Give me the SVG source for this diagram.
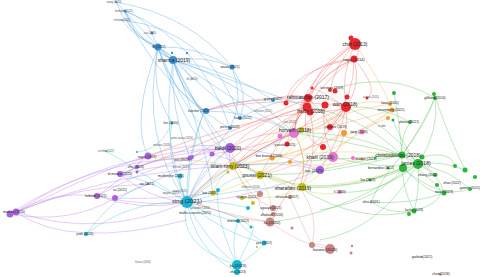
<svg xmlns="http://www.w3.org/2000/svg" width="480" height="277" viewBox="0 0 480 277">
<style>
text{font-family:"Liberation Sans",Arial,sans-serif;fill:#222;text-anchor:middle;dominant-baseline:central}
.t1{font-size:6px}.t2{font-size:5px}.t3{font-size:4px}.t4{font-size:3.3px}.t5{font-size:2.6px;fill:#555}
.b{fill:#3a91d4}.r{fill:#e8262e}.g{fill:#2ab43a}.p{fill:#a862dc}.y{fill:#c4be1a}.c{fill:#1bb4d2}.o{fill:#f49a31}.k{fill:#e279d0}.w{fill:#c98682}
#edges path{fill:none;stroke-width:0.9;stroke-opacity:0.45}
.eb{stroke:#5eaae4}.er{stroke:#f26e6e}.eg{stroke:#62c462}.ep{stroke:#bd86e6}.ey{stroke:#d4cd50}.ec{stroke:#4fc8e0}.eo{stroke:#f6ad62}.ew{stroke:#d9a09c}
</style>
<rect width="480" height="277" fill="#fff"/>
<g id="edges">
<path class="eb" d="M125 11 Q128 35 158 47"/>
<path class="eb" d="M125 11 Q140 45 173 60"/>
<path class="eb" d="M125 11 Q150 70 204 111"/>
<path class="eb" d="M116 2 Q125 30 158 47"/>
<path class="eb" d="M116 2 Q190 15 232 67"/>
<path class="eb" d="M122 20 Q135 38 158 47"/>
<path class="eb" d="M152 33 Q158 52 173 60"/>
<path class="eb" d="M158 47 Q162 56 173 60"/>
<path class="eb" d="M158 47 Q195 45 232 67"/>
<path class="eb" d="M173 60 Q205 55 232 67"/>
<path class="eb" d="M173 60 Q180 90 204 111"/>
<path class="eb" d="M173 60 Q185 105 230 128"/>
<path class="eb" d="M173 60 Q200 85 240 118"/>
<path class="eb" d="M158 47 Q170 90 204 111"/>
<path class="eb" d="M158 47 Q150 90 172 123"/>
<path class="eb" d="M173 60 Q230 70 273 100"/>
<path class="eb" d="M232 67 Q245 100 230 128"/>
<path class="eb" d="M232 67 Q250 95 240 118"/>
<path class="eb" d="M158 47 Q140 140 187 202"/>
<path class="eb" d="M173 60 Q160 140 187 202"/>
<path class="eb" d="M204 111 Q185 160 187 202"/>
<path class="eb" d="M204 111 Q250 110 294 133"/>
<path class="eb" d="M173 60 Q240 80 294 133"/>
<path class="eb" d="M240 118 Q270 100 308 98"/>
<path class="eb" d="M125 11 Q145 18 152 33"/>
<path class="eb" d="M158 47 Q180 60 192 79"/>
<path class="eb" d="M173 60 Q195 110 230 148"/>
<path class="eb" d="M158 47 Q130 120 148 156"/>
<path class="eb" d="M173 60 Q215 140 233 166"/>
<path class="eb" d="M122 20 Q210 30 240 118"/>
<path class="eb" d="M158 47 Q200 150 260 175"/>
<path class="eb" d="M125 11 Q200 40 230 128"/>
<path class="eb" d="M116 2 Q170 60 173 60"/>
<path class="eb" d="M158 47 Q185 130 212 154"/>
<path class="eb" d="M173 60 Q170 110 190 158"/>
<path class="eb" d="M173 60 Q205 140 213 193"/>
<path class="eb" d="M204 111 Q230 100 273 100"/>
<path class="eb" d="M173 60 Q260 90 307 107"/>
<path class="eb" d="M158 47 Q230 100 294 133"/>
<path class="eb" d="M230 128 Q200 170 187 202"/>
<path class="er" d="M355 44 Q362 52 354 59"/>
<path class="er" d="M355 44 Q320 60 308 98"/>
<path class="er" d="M355 44 Q318 70 307 107"/>
<path class="er" d="M355 44 Q340 75 346 107"/>
<path class="er" d="M354 59 Q325 70 308 98"/>
<path class="er" d="M354 59 Q330 75 307 107"/>
<path class="er" d="M354 59 Q362 85 346 107"/>
<path class="er" d="M354 59 Q300 85 294 133"/>
<path class="er" d="M354 59 Q355 95 330 127"/>
<path class="er" d="M354 59 Q290 70 286 103"/>
<path class="er" d="M308 98 Q300 103 307 107"/>
<path class="er" d="M308 98 Q328 95 346 107"/>
<path class="er" d="M307 107 Q328 115 346 107"/>
<path class="er" d="M307 107 Q295 118 294 133"/>
<path class="er" d="M346 107 Q325 130 294 133"/>
<path class="er" d="M346 107 Q345 120 330 127"/>
<path class="er" d="M307 107 Q290 125 287 144"/>
<path class="er" d="M308 98 Q290 92 273 100"/>
<path class="er" d="M294 133 Q260 130 230 148"/>
<path class="er" d="M307 107 Q265 115 230 148"/>
<path class="er" d="M346 107 Q270 95 204 111"/>
<path class="er" d="M308 98 Q255 95 204 111"/>
<path class="er" d="M307 107 Q265 135 233 166"/>
<path class="er" d="M294 133 Q265 145 233 166"/>
<path class="er" d="M346 107 Q350 135 333 157"/>
<path class="er" d="M307 107 Q245 140 187 202"/>
<path class="er" d="M294 133 Q230 160 187 202"/>
<path class="er" d="M355 44 Q335 65 330 90"/>
<path class="er" d="M307 107 Q275 145 260 175"/>
<path class="er" d="M294 133 Q310 160 300 188"/>
<path class="er" d="M346 107 Q340 140 320 170"/>
<path class="er" d="M325 105 Q300 130 287 144"/>
<path class="er" d="M310 112 Q240 120 148 156"/>
<path class="er" d="M346 107 Q320 150 260 175"/>
<path class="er" d="M308 98 Q240 130 120 174"/>
<path class="er" d="M354 59 Q310 60 286 103"/>
<path class="er" d="M355 44 Q300 80 294 133"/>
<path class="er" d="M308 98 Q330 120 330 127"/>
<path class="er" d="M325 105 Q320 130 333 157"/>
<path class="er" d="M346 107 Q320 90 312 88"/>
<path class="er" d="M307 107 Q300 140 323 147"/>
<path class="er" d="M294 133 Q250 150 212 154"/>
<path class="er" d="M346 107 Q290 130 233 166"/>
<path class="er" d="M307 107 Q255 120 190 158"/>
<path class="er" d="M310 112 Q320 160 300 188"/>
<path class="er" d="M346 107 Q300 170 270 222"/>
<path class="er" d="M354 59 Q380 90 367 98"/>
<path class="eo" d="M294 133 Q345 110 390 104"/>
<path class="eo" d="M392 110 Q345 125 294 133"/>
<path class="eo" d="M346 107 Q368 98 390 104"/>
<path class="eo" d="M388 118 Q340 140 272 158"/>
<path class="eo" d="M344 133 Q310 150 272 158"/>
<path class="eo" d="M392 110 Q330 160 260 175"/>
<path class="eo" d="M362 159 Q320 170 290 162"/>
<path class="eo" d="M344 133 Q330 110 307 107"/>
<path class="eo" d="M272 158 Q250 165 233 166"/>
<path class="eo" d="M390 104 Q380 80 355 44"/>
<path class="eg" d="M402 155 Q412 155 418 164"/>
<path class="eg" d="M402 155 Q425 125 435 98"/>
<path class="eg" d="M418 164 Q440 130 435 98"/>
<path class="eg" d="M402 155 Q400 138 410 122"/>
<path class="eg" d="M418 164 Q440 175 444 193"/>
<path class="eg" d="M418 164 Q430 168 435 175"/>
<path class="eg" d="M418 164 Q420 190 414 211"/>
<path class="eg" d="M402 155 Q400 185 414 211"/>
<path class="eg" d="M418 164 Q450 170 470 189"/>
<path class="eg" d="M402 155 Q380 180 371 202"/>
<path class="eg" d="M402 155 Q360 160 320 170"/>
<path class="eg" d="M418 164 Q360 130 294 133"/>
<path class="eg" d="M402 155 Q360 115 307 107"/>
<path class="eg" d="M418 164 Q390 125 346 107"/>
<path class="eg" d="M330 90 Q390 70 435 98"/>
<path class="eg" d="M410 122 Q380 105 346 107"/>
<path class="eg" d="M402 155 Q330 175 260 175"/>
<path class="eg" d="M418 164 Q360 190 300 188"/>
<path class="eg" d="M418 164 Q380 195 340 192"/>
<path class="eg" d="M444 193 Q410 205 371 202"/>
<path class="eg" d="M414 211 Q390 215 371 202"/>
<path class="eg" d="M418 164 Q440 160 465 170"/>
<path class="eg" d="M402 155 Q320 160 233 166"/>
<path class="eg" d="M418 164 Q340 215 270 222"/>
<path class="eg" d="M435 98 Q420 130 402 155"/>
<path class="eg" d="M394 93 Q400 125 402 155"/>
<path class="eg" d="M434 94 Q450 140 465 170"/>
<path class="eg" d="M403 168 Q430 195 444 193"/>
<path class="eg" d="M403 168 Q380 200 320 210"/>
<path class="eg" d="M437 185 Q450 200 414 211"/>
<path class="eg" d="M418 164 Q380 230 320 240"/>
<path class="eg" d="M422 157 Q450 150 455 166"/>
<path class="eg" d="M403 168 Q440 200 470 189"/>
<path class="eg" d="M402 155 Q430 180 437 185"/>
<path class="eg" d="M418 164 Q400 140 393 120"/>
<path class="eg" d="M403 168 Q385 175 370 180"/>
<path class="eg" d="M402 155 Q390 150 375 158"/>
<path class="eg" d="M418 164 Q380 170 333 157"/>
<path class="eg" d="M403 168 Q330 200 260 175"/>
<path class="eg" d="M414 211 Q360 225 300 188"/>
<path class="eg" d="M402 155 Q340 140 294 133"/>
<path class="ep" d="M230 148 Q190 140 148 156"/>
<path class="ep" d="M230 148 Q210 148 190 158"/>
<path class="ep" d="M230 148 Q175 150 120 174"/>
<path class="ep" d="M230 148 Q160 160 97 196"/>
<path class="ep" d="M230 148 Q110 150 16 212"/>
<path class="ep" d="M16 212 Q55 190 97 196"/>
<path class="ep" d="M16 212 Q100 240 187 202"/>
<path class="ep" d="M16 212 Q120 170 233 166"/>
<path class="ep" d="M16 212 Q80 185 148 184"/>
<path class="ep" d="M10 214 Q70 225 115 198"/>
<path class="ep" d="M148 156 Q138 160 137 167"/>
<path class="ep" d="M148 156 Q130 162 120 174"/>
<path class="ep" d="M120 174 Q150 200 187 202"/>
<path class="ep" d="M97 196 Q140 212 187 202"/>
<path class="ep" d="M320 170 Q275 150 230 148"/>
<path class="ep" d="M320 170 Q280 160 233 166"/>
<path class="ep" d="M320 170 Q200 220 97 196"/>
<path class="ep" d="M230 148 Q228 160 233 166"/>
<path class="ep" d="M230 148 Q200 170 187 202"/>
<path class="ep" d="M212 154 Q160 180 115 198"/>
<path class="ep" d="M192 157 Q150 160 137 167"/>
<path class="ep" d="M16 212 Q100 170 148 156"/>
<path class="ep" d="M10 214 Q90 160 190 158"/>
<path class="ep" d="M97 196 Q120 180 148 156"/>
<path class="ep" d="M115 198 Q160 200 213 193"/>
<path class="ep" d="M212 154 Q250 165 260 175"/>
<path class="ep" d="M120 174 Q180 160 233 166"/>
<path class="ep" d="M16 212 Q70 250 187 220"/>
<path class="ey" d="M233 166 Q245 165 260 175"/>
<path class="ey" d="M233 166 Q265 170 300 188"/>
<path class="ey" d="M260 175 Q283 178 300 188"/>
<path class="ey" d="M233 166 Q218 178 213 193"/>
<path class="ey" d="M260 175 Q275 200 270 222"/>
<path class="ey" d="M233 166 Q205 180 187 202"/>
<path class="ey" d="M300 188 Q310 160 294 133"/>
<path class="ey" d="M260 175 Q285 150 294 133"/>
<path class="ey" d="M233 166 Q320 145 402 155"/>
<path class="ey" d="M300 188 Q360 185 418 164"/>
<path class="ey" d="M260 175 Q230 190 213 193"/>
<path class="ey" d="M233 166 Q250 195 253 203"/>
<path class="ey" d="M300 188 Q280 200 242 198"/>
<path class="ey" d="M233 166 Q270 140 307 107"/>
<path class="ey" d="M260 175 Q300 140 346 107"/>
<path class="ey" d="M300 188 Q330 170 333 157"/>
<path class="ey" d="M233 166 Q200 160 148 156"/>
<path class="ey" d="M260 175 Q320 200 340 192"/>
<path class="ey" d="M300 188 Q340 140 392 110"/>
<path class="ec" d="M187 202 Q205 240 237 265"/>
<path class="ec" d="M187 202 Q195 250 237 272"/>
<path class="ec" d="M187 202 Q225 235 264 243"/>
<path class="ec" d="M187 202 Q212 218 238 221"/>
<path class="ec" d="M187 202 Q130 200 86 234"/>
<path class="ec" d="M187 202 Q130 165 106 151"/>
<path class="ec" d="M187 202 Q165 160 172 123"/>
<path class="ec" d="M187 202 Q190 150 204 111"/>
<path class="ec" d="M237 265 Q230 240 238 221"/>
<path class="ec" d="M237 265 Q255 255 264 243"/>
<path class="ec" d="M187 202 Q200 192 213 193"/>
<path class="ec" d="M187 202 Q180 190 180 176"/>
<path class="ec" d="M237 265 Q175 245 187 202"/>
<path class="ec" d="M187 202 Q245 185 300 188"/>
<path class="ec" d="M187 202 Q240 160 294 133"/>
<path class="ec" d="M264 243 Q245 230 238 221"/>
<path class="ec" d="M237 265 Q260 220 251 227"/>
<path class="ec" d="M187 202 Q220 200 248 208"/>
<path class="ec" d="M187 202 Q240 215 251 227"/>
<path class="ec" d="M137 152 Q160 150 172 123"/>
<path class="ec" d="M187 202 Q210 175 233 166"/>
<path class="ec" d="M187 202 Q205 170 230 148"/>
<path class="ec" d="M187 202 Q150 180 120 174"/>
<path class="ec" d="M218 190 Q230 175 260 175"/>
<path class="ec" d="M237 265 Q215 220 218 190"/>
<path class="ec" d="M86 234 Q120 190 148 184"/>
<path class="ew" d="M270 222 Q300 245 330 249"/>
<path class="ew" d="M270 222 Q255 205 260 194"/>
<path class="ew" d="M270 222 Q278 215 273 208"/>
<path class="ew" d="M330 249 Q320 242 312 245"/>
<path class="ew" d="M270 222 Q235 220 198 203"/>
<path class="ew" d="M312 245 Q320 215 300 188"/>
<path class="ew" d="M290 197 Q300 220 312 245"/>
<path class="ew" d="M187 202 Q230 215 270 222"/>
<path class="ew" d="M273 208 Q250 200 233 166"/>
<path class="ew" d="M260 194 Q240 180 230 148"/>
</g>
<g id="n-wang2023"><circle class="b" cx="116" cy="2" r="1"/><text class="t5" x="114" y="2">wang (2023)</text></g>
<g id="n-bonfiglio"><circle class="b" cx="125" cy="11" r="1.5"/><text class="t5" x="124" y="11">bonfiglio (2021)</text></g>
<g id="n-richtera"><circle class="b" cx="122" cy="20" r="0.8"/><text class="t5" x="122" y="20">richtera (2020)</text></g>
<g id="n-cao"><circle class="b" cx="152" cy="33" r="1.6"/><text class="t5" x="150" y="33">cao (2020)</text></g>
<g id="n-fu"><circle class="b" cx="158" cy="47" r="3.5"/><circle class="b" cx="154" cy="46" r="1.5"/><text class="t4" x="159" y="47">fu (2022)</text></g>
<g id="n-sharma"><circle class="b" cx="173" cy="60" r="4"/><circle class="b" cx="172" cy="53" r="1.2"/><circle class="b" cx="187" cy="53" r="1.2"/><text class="t2" x="174" y="60">sharma (2019)</text></g>
<g id="n-souza"><circle class="b" cx="232" cy="67" r="2.6"/><text class="t4" x="230" y="67">souza (2021)</text></g>
<g id="n-shi"><circle class="b" cx="192" cy="79" r="0.8"/><text class="t5" x="192" y="79">shi (2020)</text></g>
<g id="n-kuester"><circle class="b" cx="206" cy="111" r="3"/><text class="t4" x="199" y="111">kuester (2022)</text></g>
<g id="n-lee2020"><circle class="c" cx="172" cy="123" r="1.5"/><text class="t4" x="171" y="123">lee (2020)</text></g>
<g id="n-gross"><circle class="b" cx="273" cy="100" r="2"/><text class="t4" x="273" y="99">gross (2022)</text></g>
<g id="n-kuso"><circle class="b" cx="240" cy="118" r="2"/><text class="t4" x="243" y="118">kuso (2022)</text></g>
<g id="n-pierce"><circle class="b" cx="230" cy="128" r="2"/><text class="t4" x="230" y="127">pierce (2022)</text></g>
<g id="n-schuster"><text class="t5" x="263" y="111">schuster (2021)</text></g>
<g id="n-pintosousa"><text class="t5" x="182" y="138">pinto-sousa (2020)</text></g>
<g id="n-molinari"><text class="t5" x="162" y="145">molinari (2020)</text></g>
<g id="n-choi"><circle class="r" cx="355" cy="44" r="6"/><circle class="r" cx="351" cy="38" r="2.5"/><text class="t2" x="355" y="44">choi (2013)</text></g>
<g id="n-rojas"><circle class="r" cx="354" cy="59" r="3.5"/><text class="t3" x="354" y="59">rojas (2014)</text></g>
<g id="n-kerstens"><circle class="r" cx="330" cy="90" r="2"/><circle class="r" cx="312" cy="88" r="1.5"/><text class="t4" x="332" y="88">kerstens (2019)</text></g>
<g id="n-rahmatullah"><circle class="r" cx="308" cy="98" r="4"/><circle class="r" cx="335" cy="91" r="2.5"/><circle class="r" cx="347" cy="97" r="2.5"/><circle class="r" cx="286" cy="103" r="2.5"/><text class="t2" x="308" y="97">rahmatullah (2017)</text></g>
<g id="n-hallin"><circle class="r" cx="307" cy="107" r="4.5"/><circle class="r" cx="310" cy="112" r="3.5"/><text class="t2" x="311" y="111">hallin (2018)</text></g>
<g id="n-wan"><circle class="r" cx="346" cy="107" r="5"/><circle class="r" cx="325" cy="105" r="3.5"/><text class="t2" x="345" y="104">wan (2018)</text></g>
<g id="n-acosta"><circle class="r" cx="367" cy="98" r="1.5"/><text class="t5" x="371" y="97">acosta (2015)</text></g>
<g id="n-jimenez"><circle class="r" cx="330" cy="127" r="3"/><text class="t4" x="336" y="127">jimenez (2019)</text></g>
<g id="n-red2020"><circle class="r" cx="323" cy="147" r="3"/></g>
<g id="n-pizzuto"><circle class="r" cx="287" cy="144" r="2.5"/><text class="t4" x="285" y="145">pizzuto (2021)</text></g>
<g id="n-sao"><text class="t5" x="290" y="122">sao (2021)</text></g>
<g id="n-horvath"><circle class="k" cx="294" cy="133" r="5"/><circle class="y" cx="301" cy="130" r="3"/><circle class="k" cx="280" cy="136" r="2.5"/><text class="t2" x="295" y="130">horvath (2018)</text></g>
<g id="n-lazar"><circle class="o" cx="390" cy="104" r="2"/><text class="t4" x="390" y="103">lazar (2020)</text></g>
<g id="n-stroemberg"><circle class="o" cx="392" cy="110" r="2.5"/><circle class="o" cx="388" cy="118" r="2"/><text class="t4" x="391" y="110">stroemberg (2021)</text></g>
<g id="n-scuber"><text class="t5" x="382" y="126">scuber</text></g>
<g id="n-orange1"><circle class="o" cx="344" cy="133" r="3"/></g>
<g id="n-tyagi"><circle class="k" cx="362" cy="132" r="2.5"/><text class="t4" x="359" y="132">tyagi (2020)</text></g>
<g id="n-khalil"><circle class="k" cx="333" cy="157" r="5"/><circle class="k" cx="353" cy="158" r="2"/><text class="t2" x="320" y="157">khalil (2019)</text></g>
<g id="n-duncan"><circle class="o" cx="362" cy="159" r="1.5"/><text class="t4" x="366" y="159">duncan (2021)</text></g>
<g id="n-li2020"><circle class="k" cx="340" cy="192" r="2"/><text class="t4" x="340" y="192">li (2020)</text></g>
<g id="n-gilliland"><circle class="g" cx="435" cy="98" r="2"/><text class="t4" x="435" y="98">gilliland (2014)</text></g>
<g id="n-platina"><circle class="g" cx="410" cy="122" r="2"/><circle class="g" cx="393" cy="120" r="1.5"/><text class="t4" x="409" y="122">platina (2021)</text></g>
<g id="n-green1"><circle class="g" cx="394" cy="93" r="2"/><circle class="g" cx="434" cy="94" r="2"/></g>
<g id="n-christodoulou"><circle class="g" cx="402" cy="155" r="3.5"/><circle class="g" cx="422" cy="157" r="2.5"/><circle class="g" cx="375" cy="158" r="1.2"/><text class="t2" x="398" y="155">christodoulou (2018)</text></g>
<g id="n-james"><circle class="g" cx="418" cy="164" r="5"/><circle class="g" cx="403" cy="168" r="4"/><text class="t2" x="416" y="163">james (2018)</text></g>
<g id="n-bernardino"><circle class="g" cx="388" cy="168" r="1.5"/><text class="t4" x="381" y="168">bernardino (2022)</text></g>
<g id="n-zhang"><circle class="g" cx="435" cy="175" r="2"/><text class="t4" x="428" y="175">zhang (2022)</text></g>
<g id="n-luo"><circle class="g" cx="370" cy="180" r="1.5"/><text class="t4" x="368" y="180">luo (2022)</text></g>
<g id="n-zhao"><circle class="g" cx="437" cy="185" r="2"/><text class="t4" x="452" y="183">zhao (2022)</text></g>
<g id="n-gomes"><circle class="g" cx="465" cy="170" r="2.5"/><circle class="g" cx="455" cy="166" r="2"/><circle class="g" cx="475" cy="177" r="2"/><text class="t4" x="470" y="188">gomes (2021)</text></g>
<g id="n-tiwari"><circle class="g" cx="444" cy="193" r="2.5"/><text class="t4" x="444" y="192">tiwari (2023)</text></g>
<g id="n-zhou"><circle class="g" cx="470" cy="189" r="2"/></g>
<g id="n-fuchs"><circle class="g" cx="414" cy="211" r="2.5"/><circle class="g" cx="409" cy="214" r="2"/><text class="t4" x="414" y="210">fuchs (2023)</text></g>
<g id="n-silva"><circle class="g" cx="371" cy="202" r="0.8"/><text class="t4" x="371" y="202">silva (2021)</text></g>
<g id="n-baldi"><circle class="p" cx="230" cy="148" r="5"/><circle class="p" cx="212" cy="154" r="2.5"/><circle class="p" cx="192" cy="157" r="2"/><text class="t2" x="228" y="148">baldi (2020)</text></g>
<g id="n-sagar"><circle class="p" cx="148" cy="156" r="3.5"/><text class="t4" x="147" y="157">sagar (2021)</text></g>
<g id="n-wei"><circle class="p" cx="190" cy="158" r="2.5"/><text class="t4" x="182" y="160">wei (2020)</text></g>
<g id="n-serrano"><text class="t5" x="181" y="167">serrano (2023)</text></g>
<g id="n-zhu2020"><circle class="p" cx="137" cy="167" r="2"/><circle class="p" cx="137" cy="172" r="1.5"/><text class="t4" x="136" y="167">zhu (2020)</text></g>
<g id="n-dimascio"><circle class="p" cx="120" cy="174" r="3"/><text class="t4" x="120" y="174">di mascio (2020)</text></g>
<g id="n-mukherjee"><circle class="c" cx="180" cy="176" r="2.5"/><text class="t4" x="171" y="176">mukherjee (2021)</text></g>
<g id="n-wu"><circle class="p" cx="148" cy="184" r="1"/><text class="t4" x="147" y="184">wu (2021)</text></g>
<g id="n-xu"><circle class="p" cx="115" cy="198" r="3"/><text class="t4" x="120" y="190">xu (2021)</text></g>
<g id="n-kebede"><circle class="p" cx="97" cy="196" r="3"/><text class="t4" x="96" y="196">kebede (2021)</text></g>
<g id="n-mancini"><circle class="p" cx="10" cy="214" r="3.5"/><circle class="p" cx="16" cy="212" r="3.5"/><text class="t4" x="14" y="212">mancini (2020)</text></g>
<g id="n-cerrillo"><circle class="c" cx="106" cy="151" r="1"/><circle class="c" cx="137" cy="152" r="1"/><text class="t5" x="106" y="151">cerrillo (2022)</text></g>
<g id="n-roe"><circle class="p" cx="320" cy="170" r="4"/><text class="t3" x="314" y="170">roe (2021)</text></g>
<g id="n-islamrony"><circle class="y" cx="233" cy="166" r="4"/><circle class="y" cx="228" cy="172" r="1.5"/><text class="t2" x="230" y="166">islam rony (2023)</text></g>
<g id="n-benbouzid"><circle class="o" cx="272" cy="158" r="2.5"/><circle class="o" cx="290" cy="162" r="2"/><text class="t4" x="269" y="156">ben bouzid (2018)</text></g>
<g id="n-prussi"><circle class="y" cx="260" cy="175" r="4"/><text class="t2" x="257" y="175">prussi (2021)</text></g>
<g id="n-sharafian"><circle class="y" cx="302" cy="187" r="4"/><text class="t2" x="293" y="188">sharafian (2019)</text></g>
<g id="n-bellevue"><text class="t5" x="251" y="187">bellevue (2024)</text></g>
<g id="n-law"><circle class="y" cx="213" cy="193" r="2.5"/><circle class="c" cx="218" cy="190" r="2"/><text class="t4" x="210" y="193">law (2021)</text></g>
<g id="n-xing"><circle class="c" cx="187" cy="202" r="6"/><text class="t1" x="187" y="201">xing (2021)</text></g>
<g id="n-wagner"><text class="t5" x="171" y="193">wagner (2022)</text></g>
<g id="n-wang2021"><text class="t5" x="180" y="191">wang (2021)</text></g>
<g id="n-alexander"><circle class="w" cx="198" cy="203" r="1.5"/><text class="t5" x="200" y="208">alexander (2020)</text></g>
<g id="n-muller"><text class="t4" x="195" y="213">müller-cuzzoni (2021)</text></g>
<g id="n-nyanya"><circle class="w" cx="260" cy="194" r="3"/><circle class="y" cx="242" cy="198" r="2"/><circle class="y" cx="253" cy="203" r="2"/><text class="t4" x="247" y="197">nyanya (2021)</text></g>
<g id="n-alvarado"><circle class="w" cx="290" cy="197" r="2"/><text class="t4" x="287" y="197">alvarado (2017)</text></g>
<g id="n-aguayo"><circle class="w" cx="273" cy="208" r="3"/><circle class="c" cx="248" cy="208" r="2"/><text class="t4" x="271" y="208">aguayo (2021)</text></g>
<g id="n-dhaliwal"><circle class="w" cx="273" cy="214" r="2"/><text class="t4" x="272" y="215">dhaliwal (2020)</text></g>
<g id="n-liu2020"><circle class="w" cx="270" cy="222" r="4.5"/><circle class="w" cx="292" cy="228" r="1.5"/><text class="t3" x="272" y="222">liu (2020)</text></g>
<g id="n-mitchell"><circle class="c" cx="238" cy="221" r="2"/><circle class="c" cx="251" cy="227" r="1.5"/><text class="t4" x="238" y="221">mitchell (2022)</text></g>
<g id="n-yen"><circle class="c" cx="264" cy="243" r="2.5"/><circle class="y" cx="257" cy="247" r="1"/><text class="t4" x="264" y="243">yen (2022)</text></g>
<g id="n-liu2023"><circle class="c" cx="237" cy="265" r="5"/><text class="t3" x="238" y="265">liu (2023)</text></g>
<g id="n-zhu2023"><circle class="c" cx="237" cy="272" r="3"/><text class="t4" x="238" y="272">zhu (2023)</text></g>
<g id="n-park"><circle class="c" cx="86" cy="234" r="2"/><text class="t4" x="85" y="234">park (2020)</text></g>
<g id="n-frasco"><text class="t5" x="143" y="262">frasco (2024)</text></g>
<g id="n-lozano"><circle class="w" cx="330" cy="249" r="5"/><circle class="w" cx="312" cy="245" r="3"/><circle class="w" cx="352" cy="246" r="1.2"/><circle class="w" cx="351" cy="253" r="1.5"/><text class="t3" x="325" y="249">lozano (2020)</text></g>
<g id="n-garbutt"><circle class="w" cx="422" cy="257" r="1"/><text class="t4" x="422" y="257">garbutt (2021)</text></g>
<g id="n-chen"><circle class="w" cx="440" cy="274" r="1.5"/><text class="t4" x="441" y="274">chen (2018)</text></g>
</svg>
